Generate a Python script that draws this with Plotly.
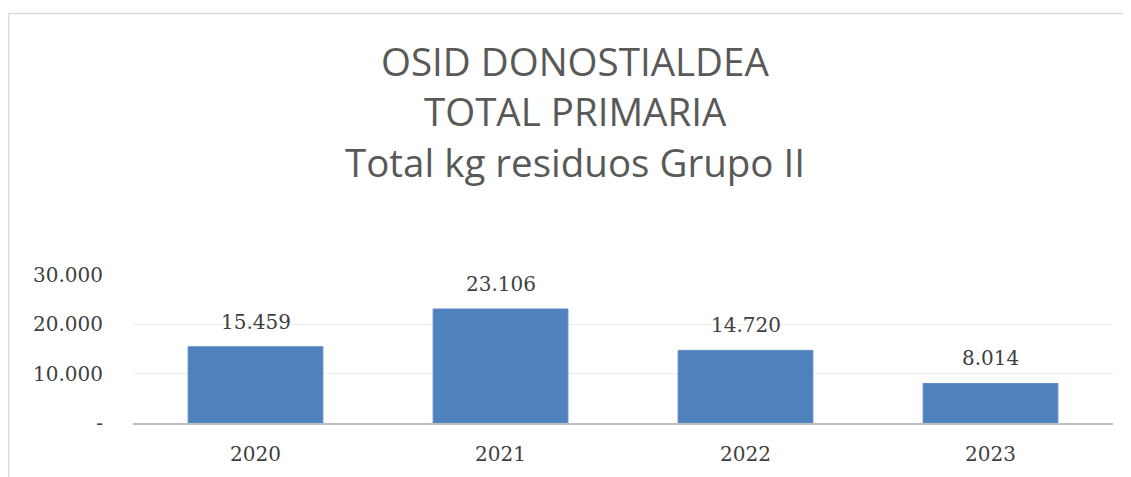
import plotly.graph_objects as go

years = ["2020", "2021", "2022", "2023"]
values = [15459, 23106, 14720, 8014]
y_ticks = [0, 10000, 20000, 30000]
y_tick_labels = ["-", "10.000", "20.000", "30.000"]
title_lines = ["OSID DONOSTIALDEA", "TOTAL PRIMARIA", "Total kg residuos Grupo II"]

OFF = 8  # page body margin offset
W, H = 1131 - OFF, 477 - OFF
L, R, T, B = 133 - OFF, 18, 275 - OFF, 54
plot_w = W - L - R
plot_h = H - T - B

def px_to_paper_x(px):
    return (px - OFF - L) / plot_w

def px_to_paper_y(py):
    return (H - B - (py - OFF)) / plot_h

serif = "DejaVu Serif"
txt_col = "#404040"

fig = go.Figure()
fig.add_trace(go.Bar(
    x=years, y=values,
    marker=dict(color="#4f81bd", line=dict(color="#5a8ac4", width=1)),
    width=0.55,
    hoverinfo="skip",
))

for i, v in enumerate(values):
    fig.add_annotation(
        x=i, y=v, xref="x", yref="y",
        text=f"{v:,}".replace(",", "."),
        showarrow=False, yanchor="bottom", yshift=11,
        font=dict(family=serif, size=20, color=txt_col),
    )

title_centers = [63, 113, 164]
for line, cy in zip(title_lines, title_centers):
    fig.add_annotation(
        x=px_to_paper_x(575), y=px_to_paper_y(cy - 2), xref="paper", yref="paper",
        text=line, showarrow=False, xanchor="center", yanchor="middle",
        font=dict(family="Open Sans", size=38.5, color="#595959"),
    )

# chart border
fig.add_shape(
    type="rect", xref="paper", yref="paper",
    x0=px_to_paper_x(8.5), x1=px_to_paper_x(1160),
    y0=px_to_paper_y(520), y1=px_to_paper_y(13.5),
    line=dict(color="#d9d9d9", width=1.5), fillcolor="rgba(0,0,0,0)",
    layer="below",
)

fig.update_layout(
    width=W, height=H,
    margin=dict(l=L, r=R, t=T, b=B, pad=0),
    paper_bgcolor="white", plot_bgcolor="white",
    showlegend=False,
    bargap=0.45,
    xaxis=dict(
        type="category", range=[-0.5, len(years) - 0.5],
        showgrid=False, showline=True, linecolor="#bfbfbf", linewidth=2,
        ticks="outside", ticklen=12, tickcolor="rgba(0,0,0,0)",
        tickfont=dict(family=serif, size=20, color=txt_col),
        fixedrange=True,
    ),
    yaxis=dict(
        range=[0, 30000], tickvals=y_ticks, ticktext=y_tick_labels,
        showgrid=True, gridcolor="#eeeeee", gridwidth=1,
        zeroline=False, showline=False,
        ticks="outside", ticklen=25, tickcolor="rgba(0,0,0,0)",
        tickfont=dict(family=serif, size=20, color=txt_col),
        fixedrange=True,
    ),
)

fig.write_html("out.html")
